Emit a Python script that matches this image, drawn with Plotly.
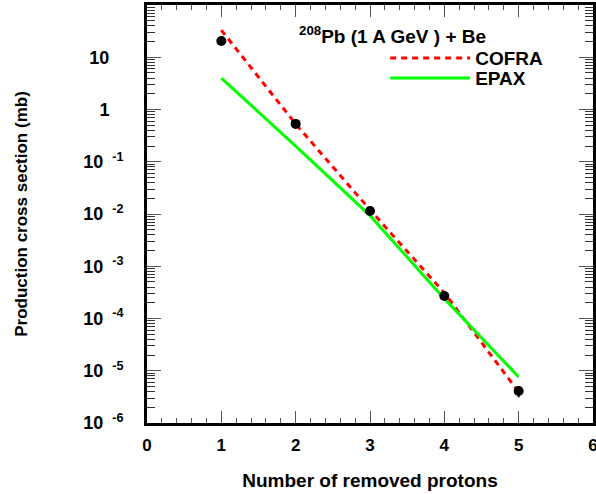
import plotly.graph_objects as go

protons = [1, 2, 3, 4, 5]
exp_sigma = [20.5, 0.53, 0.0114, 2.7e-4, 4.1e-6]
exp_err = [0, 0, 0, 0, 1.0e-6]
cofra = [33, 0.53, 0.012, 3.1e-4, 3.9e-6]
epax = [4.0, 0.20, 0.0093, 2.4e-4, 7.6e-6]

ytick_vals = [1e-6, 1e-5, 1e-4, 1e-3, 1e-2, 1e-1, 1, 10]
SP = "\u2002"
PAD = "\u2002\u00a0"
ytick_text = ["10" + SP + "<sup>-6</sup>", "10" + SP + "<sup>-5</sup>", "10" + SP + "<sup>-4</sup>",
              "10" + SP + "<sup>-3</sup>", "10" + SP + "<sup>-2</sup>", "10" + SP + "<sup>-1</sup>",
              "1" + PAD, "10" + PAD]
yminor_vals = [k * 10.0 ** n for n in range(-6, 2) for k in range(2, 10)]

FONT = "Liberation Sans, Arial, sans-serif"

fig = go.Figure()
fig.add_trace(go.Scatter(x=protons, y=cofra, mode="lines", name="COFRA", legend="legend",
                         line=dict(color="#ff0000", width=3, dash="6px,5px")))
fig.add_trace(go.Scatter(x=protons, y=epax, mode="lines", name="EPAX", legend="legend2",
                         line=dict(color="#00ff00", width=3)))
fig.add_trace(go.Scatter(x=protons, y=exp_sigma, mode="markers", name="data",
                         showlegend=False,
                         marker=dict(color="black", size=10),
                         error_y=dict(type="data", array=exp_err, color="black",
                                      thickness=2, width=0)))

leg_common = dict(xanchor="left", yanchor="middle", bgcolor="rgba(0,0,0,0)",
                  font=dict(size=19, weight="bold"), itemwidth=80)

fig.update_layout(
    width=596, height=494,
    margin=dict(l=147, r=3, t=5, b=71),
    paper_bgcolor="white", plot_bgcolor="white",
    font=dict(family=FONT, size=18, color="black", weight="bold"),
    showlegend=True,
    legend=dict(x=0.534, y=0.873, **leg_common),
    legend2=dict(x=0.534, y=0.825, **leg_common),
    annotations=[dict(xref="paper", yref="paper", x=0.336, y=0.928,
                      xanchor="left", yanchor="middle", showarrow=False,
                      text="<sup>208</sup>Pb (1 A GeV ) + Be",
                      font=dict(size=19, weight="bold"))],
)

fig.update_xaxes(
    range=[0, 6], tickmode="linear", tick0=0, dtick=1, automargin=False,
    ticklabeloverflow="allow",
    showgrid=False, zeroline=False,
    showline=True, linewidth=3, linecolor="black", mirror="allticks",
    ticks="inside", ticklen=12, tickwidth=1, tickcolor="#555555",
    minor=dict(ticks="inside", ticklen=5, dtick=0.2, tick0=0, tickcolor="#555555", showgrid=False),
    tickfont=dict(size=17, weight="bold"),
    ticklabelstandoff=5,
    title=dict(text="Number of removed protons", font=dict(size=19, weight="bold"), standoff=20),
)
fig.update_yaxes(
    type="log", range=[-6, 2], automargin=False,
    ticklabeloverflow="allow",
    tickmode="array", tickvals=ytick_vals, ticktext=ytick_text,
    showgrid=False, zeroline=False,
    showline=True, linewidth=3, linecolor="black", mirror="allticks",
    ticks="inside", ticklen=14, tickwidth=1, tickcolor="#555555",
    minor=dict(ticks="inside", ticklen=8, tickvals=yminor_vals, tickcolor="#333333", showgrid=False),
    tickfont=dict(size=18, weight="bold"),
    ticklabelstandoff=17,
    title=dict(text="Production cross section (mb)", font=dict(size=17, weight="bold"), standoff=52),
)

fig.write_html("out.html")
